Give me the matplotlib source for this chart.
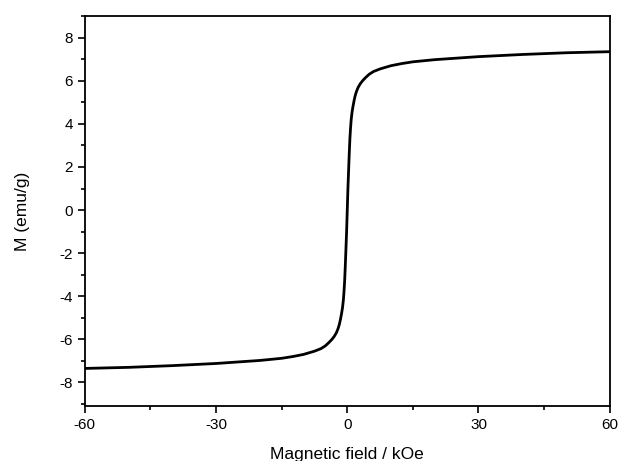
import matplotlib
matplotlib.use("Agg")
import matplotlib.pyplot as plt
from matplotlib.ticker import MultipleLocator

# upper half of the loop (positive field); the negative side mirrors it
field_pos = [0, 0.15, 0.3, 0.45, 0.6, 0.75, 0.9, 1.1, 1.3, 1.55, 1.8, 2.1, 2.5, 3.0, 3.5, 4.2,
             5, 6, 7.5, 9, 10, 12.5, 15, 20, 25, 30, 40, 50, 60]
moment_pos = [0, 1.0, 1.8, 2.6, 3.3, 3.8, 4.2, 4.55, 4.8, 5.07, 5.3, 5.5, 5.7, 5.87, 6.0, 6.15,
              6.3, 6.43, 6.55, 6.64, 6.7, 6.8, 6.88, 6.98, 7.05, 7.12, 7.22, 7.3, 7.35]

field = [-h for h in field_pos[::-1]] + field_pos[1:]
moment = [-m for m in moment_pos[::-1]] + moment_pos[1:]

plt.rcParams['font.family'] = ['Liberation Sans', 'DejaVu Sans']
plt.rcParams['axes.unicode_minus'] = False

fig = plt.figure(figsize=(6.19, 4.61), dpi=100)
ax = fig.add_axes([0.137, 0.119, 0.848, 0.846])
ax.plot(field, moment, color='black', lw=2, solid_joinstyle='round')

ax.set_xlim(-60, 60)
ax.set_ylim(-9.1, 9)
ax.xaxis.set_major_locator(MultipleLocator(30))
ax.xaxis.set_minor_locator(MultipleLocator(15))
ax.yaxis.set_major_locator(MultipleLocator(2))
ax.yaxis.set_minor_locator(MultipleLocator(1))
ax.tick_params(which='both', direction='out', top=False, right=False, labelsize=11, width=1.2)
ax.tick_params(which='major', length=5)
ax.tick_params(which='minor', length=3)
for s in ax.spines.values():
    s.set_linewidth(1.3)

ax.set_xlabel('Magnetic field / kOe', fontsize=12.5, labelpad=11)
ax.set_ylabel('M (emu/g)', fontsize=12.5, labelpad=21)

fig.savefig('out.png', dpi=100)
